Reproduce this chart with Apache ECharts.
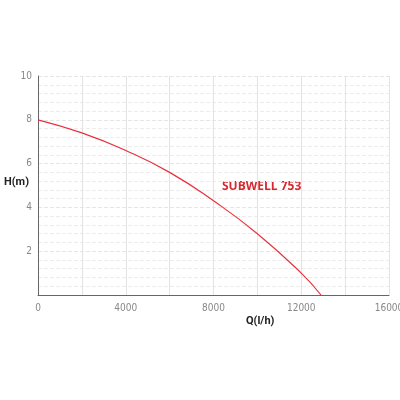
<!DOCTYPE html>
<html><head><meta charset="utf-8">
<script src="https://cdn.jsdelivr.net/npm/echarts@6/dist/echarts.min.js"></script>
<style>html,body{margin:0;background:#fff}#c{width:400px;height:400px}</style>
</head><body><div id="c"></div>
<script>
// Courbe Q-H de la pompe
const flowQ = [0, 2000, 4000, 6000, 8000, 10000, 12000, 12900];
const headH = [8, 7.4, 6.6, 5.6, 4.3, 2.8, 1.0, 0];
const pumpName = 'SUBWELL 753';

const chart = echarts.init(document.getElementById('c'));
const tickFont = { color: '#888', fontSize: 10, fontFamily: 'DejaVu Sans Condensed' };
chart.setOption({
  animation: false,
  grid: { left: 38, right: 11, top: 76, bottom: 105, containLabel: false, outerBoundsMode: 'none' },
  xAxis: {
    type: 'value', min: 0, max: 16000, interval: 4000,
    axisLine: { lineStyle: { color: '#666' } },
    axisTick: { show: false },
    axisLabel: Object.assign({ margin: 8, formatter: v => String(v) }, tickFont),
    splitLine: { show: false }
  },
  yAxis: {
    type: 'value', min: 0, max: 10, interval: 2,
    axisLine: { show: true, lineStyle: { color: '#666' } },
    axisTick: { show: false },
    axisLabel: Object.assign({ margin: 6, formatter: v => v === 0 ? '' : String(v) }, tickFont),
    splitLine: { lineStyle: { color: '#e6e6e6', type: 'dashed' } },
    minorTick: { show: false, splitNumber: 5 },
    minorSplitLine: { show: true, lineStyle: { color: '#ececec', type: 'dashed' } }
  },
  series: [
    { // grille verticale pleine tous les 2000
      type: 'line', data: [], z: 1, markLine: {
        silent: true, symbol: 'none', label: { show: false }, z: 1,
        lineStyle: { color: '#e3e3e3', type: 'solid', width: 1 },
        data: [2000, 4000, 6000, 8000, 10000, 12000, 14000, 16000].map(x => ({ xAxis: x }))
      }
    },
    {
      type: 'line', smooth: true, symbol: 'none', z: 10,
      lineStyle: { color: '#e8313c', width: 1.2 },
      data: flowQ.map((q, i) => [q, headH[i]])
    }
  ],
  graphic: [
    { type: 'text', left: 4, top: 177, style: { text: 'H(m)', font: 'bold 11px Roboto', fill: '#222' } },
    { type: 'text', left: 246, top: 316, style: { text: 'Q(l/h)', font: 'bold 11px Roboto', fill: '#222' } },
    { type: 'text', left: 222, top: 181, style: { text: pumpName, font: 'bold 12px "Open Sans"', fill: '#d7282f' } }
  ]
});
</script></body></html>
